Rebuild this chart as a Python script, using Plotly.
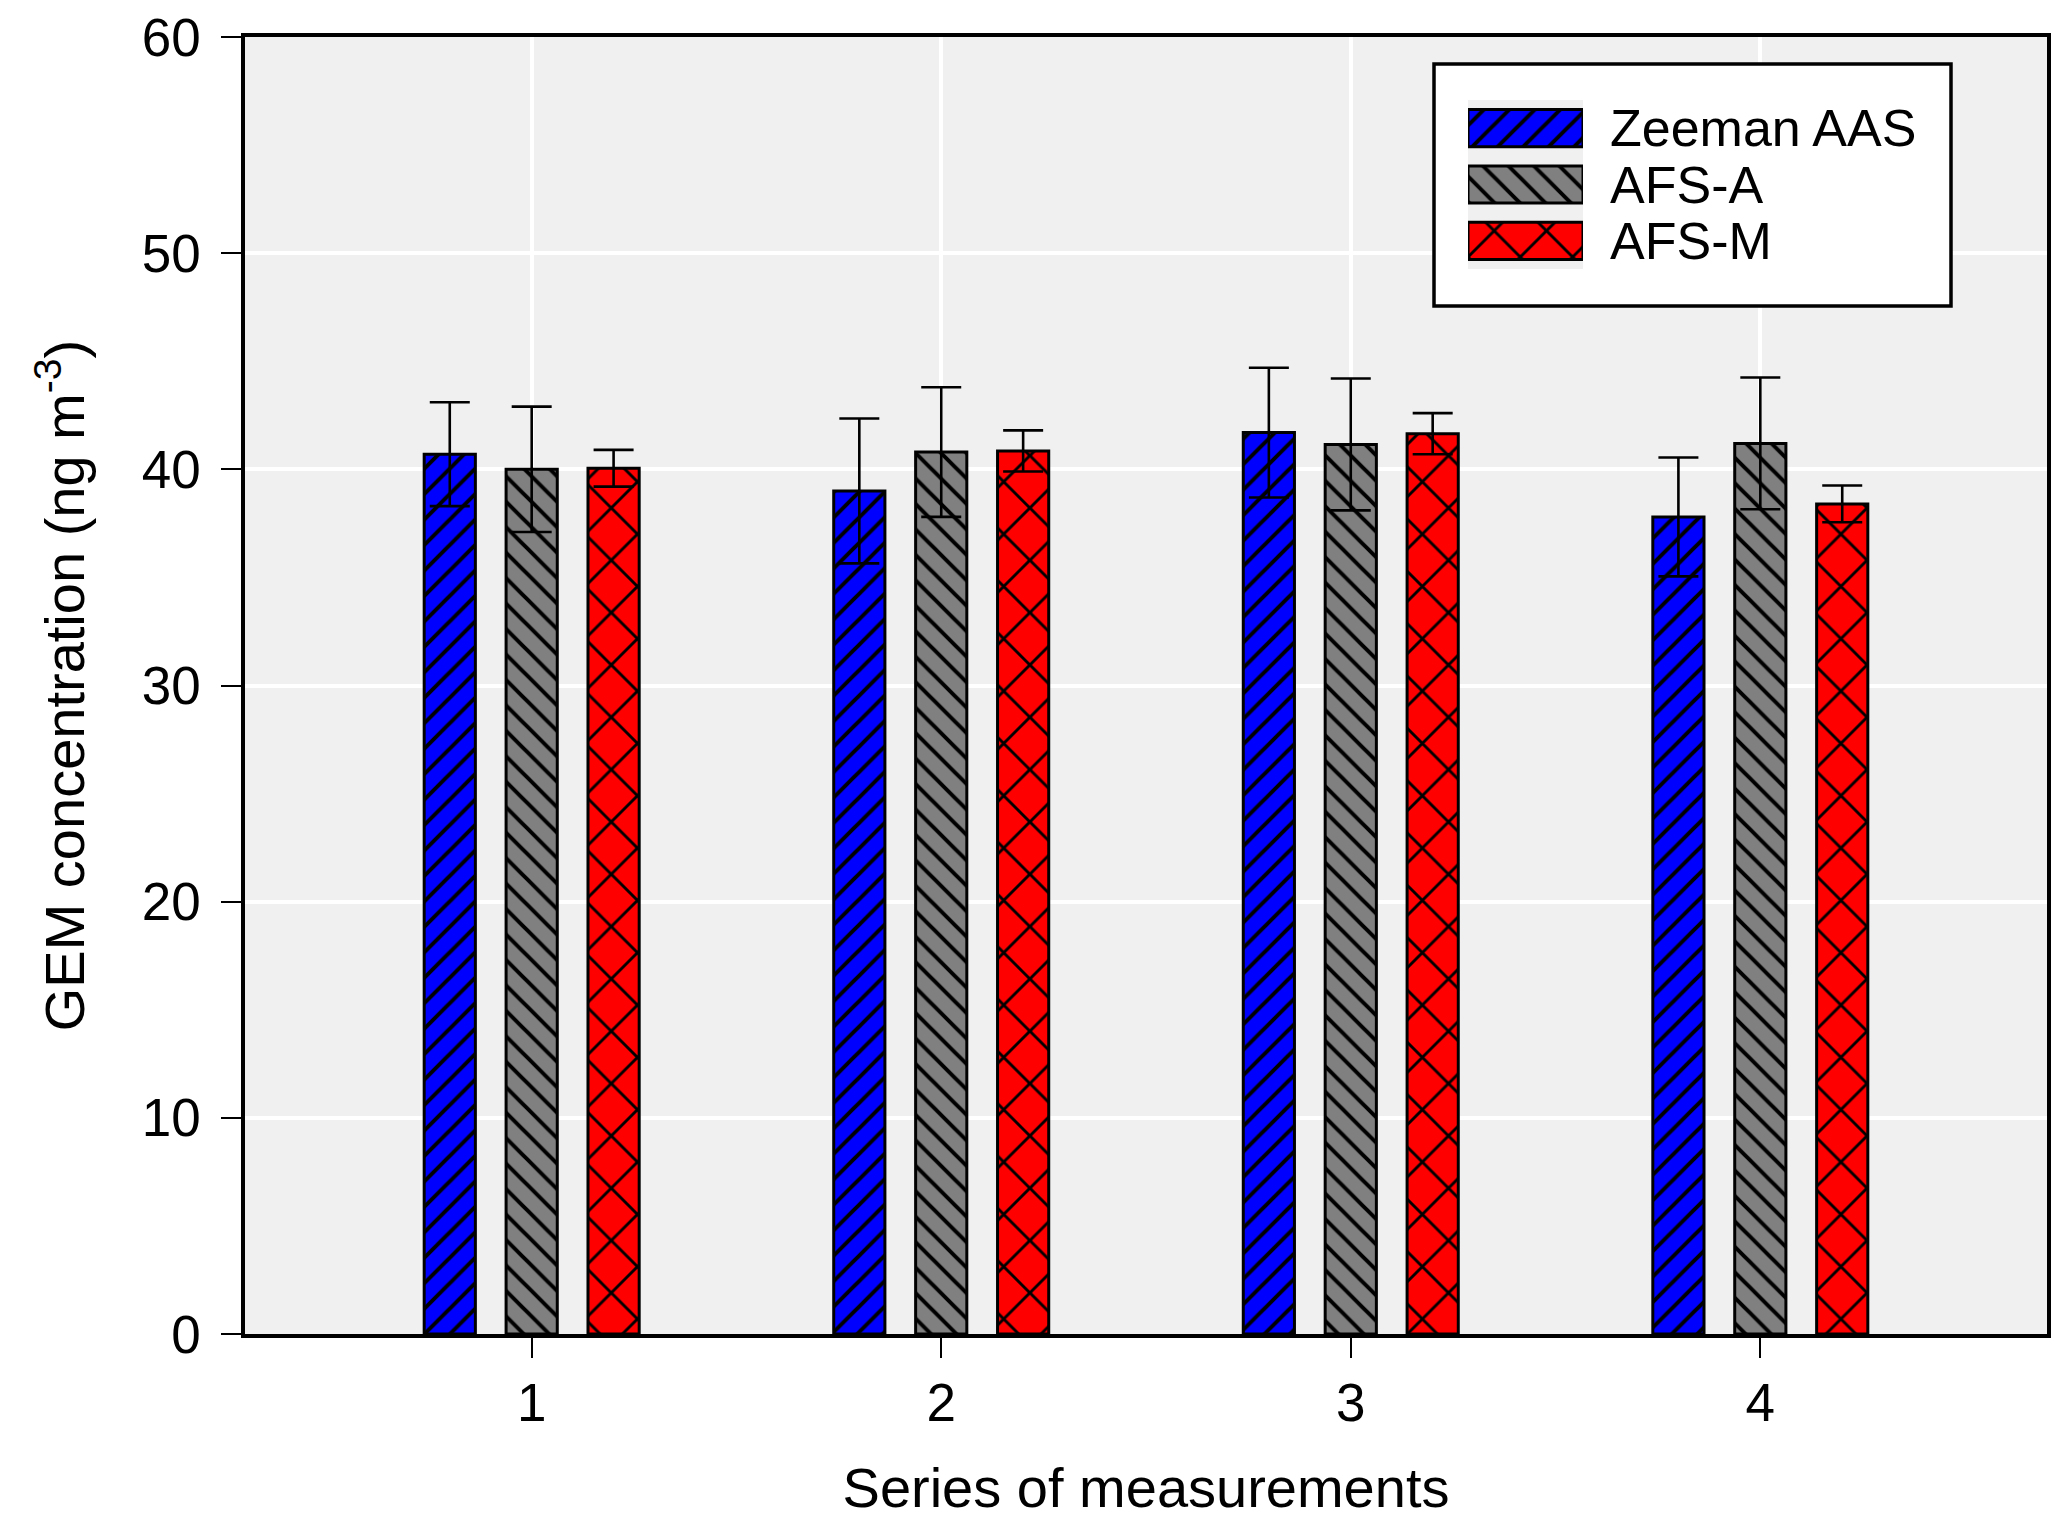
import plotly.graph_objects as go

# ---- data ----
categories = [1, 2, 3, 4]
series_names = ["Zeeman AAS", "AFS-A", "AFS-M"]
zeeman_vals = [40.7, 39.0, 41.7, 37.8]
zeeman_err = [2.4, 3.35, 3.0, 2.75]
afsa_vals = [40.0, 40.8, 41.15, 41.2]
afsa_err = [2.9, 3.0, 3.05, 3.05]
afsm_vals = [40.05, 40.85, 41.65, 38.4]
afsm_err = [0.85, 0.95, 0.95, 0.85]
y_ticks = [0, 10, 20, 30, 40, 50, 60]

colors = ["#0000ff", "#808080", "#ff0000"]
shapes_pat = ["/", "\\", "x"]
sizes_pat = [18, 18, 37]
solid_pat = [0.22, 0.22, 0.15]

FONT = "Arial, 'Liberation Sans', sans-serif"

fig = go.Figure()
vals = [zeeman_vals, afsa_vals, afsm_vals]
errs = [zeeman_err, afsa_err, afsm_err]
for name, v, e, c, p, s, so in zip(series_names, vals, errs, colors, shapes_pat, sizes_pat, solid_pat):
    fig.add_trace(go.Bar(
        x=categories, y=v, name=name, showlegend=False,
        marker=dict(color=c, line=dict(color="black", width=3),
                    pattern=dict(shape=p, size=s, solidity=so, fgcolor="black",
                                 fgopacity=1, fillmode="overlay")),
        error_y=dict(type="data", array=e, visible=True, color="black",
                     thickness=2.6, width=20),
        xaxis="x", yaxis="y",
    ))

# custom legend swatches (overlay axes)
for name, c, p, s, so in zip(series_names, colors, shapes_pat, sizes_pat, solid_pat):
    fig.add_trace(go.Bar(
        x=[1], y=[name], orientation="h", width=0.66, offset=-0.33,
        marker=dict(color=c, line=dict(color="black", width=3),
                    pattern=dict(shape=p, size=s, solidity=so, fgcolor="black",
                                 fgopacity=1, fillmode="overlay")),
        xaxis="x2", yaxis="y2", showlegend=False, hoverinfo="skip",
    ))

# page body has an 8px margin; compensate so plot area lands where the reference has it
OFF = 8
PL, PR, PT, PB = 245, 2047, 37, 1334   # plot area in page pixels
W, H = 2067 - 2 * OFF, 1527 - 2 * OFF
L, T = PL - OFF, PT - OFF
R = OFF + W - PR
B = OFF + H - PB
pw, ph = W - L - R, H - T - B
def px(x):  # page px -> paper
    return (x - PL) / pw
def py(y):
    return (PB - y) / ph

fig.update_layout(
    width=W, height=H,
    margin=dict(l=L, r=R, t=T, b=B, autoexpand=False),
    paper_bgcolor="white", plot_bgcolor="#f0f0f0",
    barmode="group", bargap=0.4, bargroupgap=0.375,
    font=dict(family=FONT, size=52, color="black"),
    showlegend=False,
    xaxis=dict(
        domain=[0, 1], range=[0.3, 4.7], tickvals=categories, automargin=False,
        ticks="outside", ticklen=20, tickwidth=2, tickcolor="black",
        showline=True, linecolor="black", linewidth=3.5, mirror=True,
        showgrid=True, gridcolor="white", gridwidth=4, zeroline=False,
        tickfont=dict(size=53),
        title=dict(text="Series of measurements", font=dict(size=56), standoff=38),
    ),
    yaxis=dict(
        domain=[0, 1], range=[0, 60], tickvals=y_ticks, automargin=False,
        ticks="outside", ticklen=20, tickwidth=2, tickcolor="black",
        showline=True, linecolor="black", linewidth=3.5, mirror=True,
        showgrid=True, gridcolor="white", gridwidth=4, zeroline=False,
        tickfont=dict(size=53), ticklabelstandoff=10, ticklabeloverflow="allow",
        title=dict(text="GEM concentration (ng m<sup>-3</sup>)", font=dict(size=56), standoff=40),
    ),
    xaxis2=dict(domain=[px(1468), px(1583)], range=[0, 1], anchor="y2",
                visible=False, fixedrange=True, automargin=False),
    yaxis2=dict(domain=[py(269), py(100)], anchor="x2", type="category",
                categoryorder="array", categoryarray=series_names, automargin=False,
                autorange="reversed", side="right", showgrid=False, dtick=1,
                showline=False, ticks="", zeroline=False, ticklabelstandoff=26,
                tickfont=dict(size=52), fixedrange=True),
    shapes=[
        dict(type="rect", xref="paper", yref="paper",
             x0=px(1434), x1=px(1951), y0=py(306), y1=py(64),
             fillcolor="white", line=dict(width=0), layer="below"),
        dict(type="rect", xref="paper", yref="paper",
             x0=px(1434), x1=px(1951), y0=py(306), y1=py(64),
             fillcolor="rgba(0,0,0,0)", line=dict(color="black", width=3.5), layer="above"),
    ],
)

fig.write_html("out.html")
